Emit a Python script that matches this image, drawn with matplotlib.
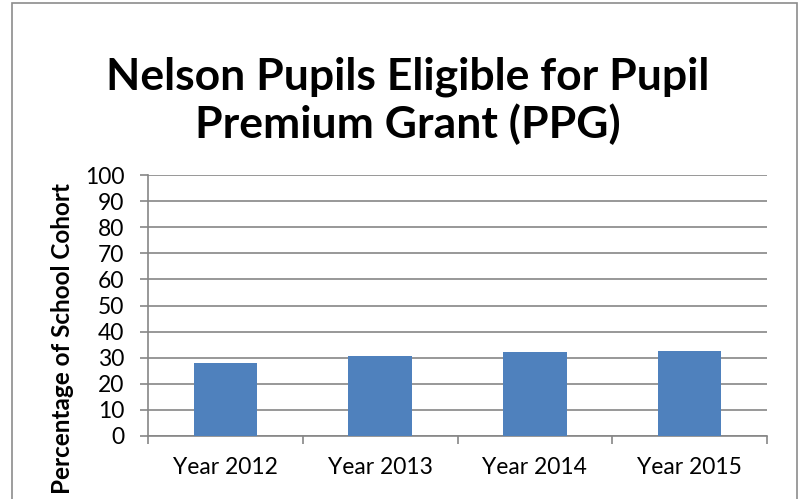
import matplotlib.pyplot as plt
import matplotlib.patches as mpatches
import numpy as np

years = ["Year 2012", "Year 2013", "Year 2014", "Year 2015"]
ppg_percent = [27.8, 30.8, 32.2, 32.7]
y_ticks = list(range(0, 101, 10))

plt.rcParams['font.family'] = ['Lato', 'DejaVu Sans']

fig = plt.figure(figsize=(8, 4.99), dpi=100)
ax = fig.add_axes([148 / 800, 1 - 436 / 499, (767 - 148) / 800, (436 - 175) / 499])

# chart border (cut off at the bottom like the original)
fig.patches.append(mpatches.Rectangle((12 / 800, -0.05), (797 - 12) / 800, 1.05 - 3 / 499,
                                      transform=fig.transFigure, fill=False,
                                      edgecolor='#8c8c8c', linewidth=1.2))

x = np.arange(len(years))
ax.bar(x, ppg_percent, width=0.41, color='#4F81BD', zorder=3)

ax.set_xlim(-0.5, len(years) - 0.5)
ax.set_ylim(0, 100)
ax.set_yticks(y_ticks)
ax.set_yticklabels([str(v) for v in y_ticks], fontsize=16.5)
ax.set_xticks(x)
ax.set_xticklabels(years, fontsize=16.5)
ax.tick_params(axis='x', length=0, pad=15)
ax.set_xticks(np.arange(-0.5, len(years)), minor=True)
ax.tick_params(axis='x', which='minor', length=6, color='#868686', width=1.2)
ax.tick_params(axis='y', length=6, color='#868686', width=1.2, pad=11)

ax.grid(axis='y', color='#868686', linewidth=1.2, zorder=0)
for side in ['top', 'right']:
    ax.spines[side].set_visible(False)
for side in ['left', 'bottom']:
    ax.spines[side].set_color('#868686')
    ax.spines[side].set_linewidth(1.2)

fig.text(0.51, 1 - 101 / 499, "Nelson Pupils Eligible for Pupil\nPremium Grant (PPG)",
         ha='center', va='center', fontsize=32, fontweight='bold', linespacing=1.2)
fig.text(63 / 800, 1 - 338 / 499, "Percentage of School Cohort", rotation=90,
         ha='center', va='center', fontsize=17.5, fontweight='bold')

fig.savefig("out.png", dpi=100)
